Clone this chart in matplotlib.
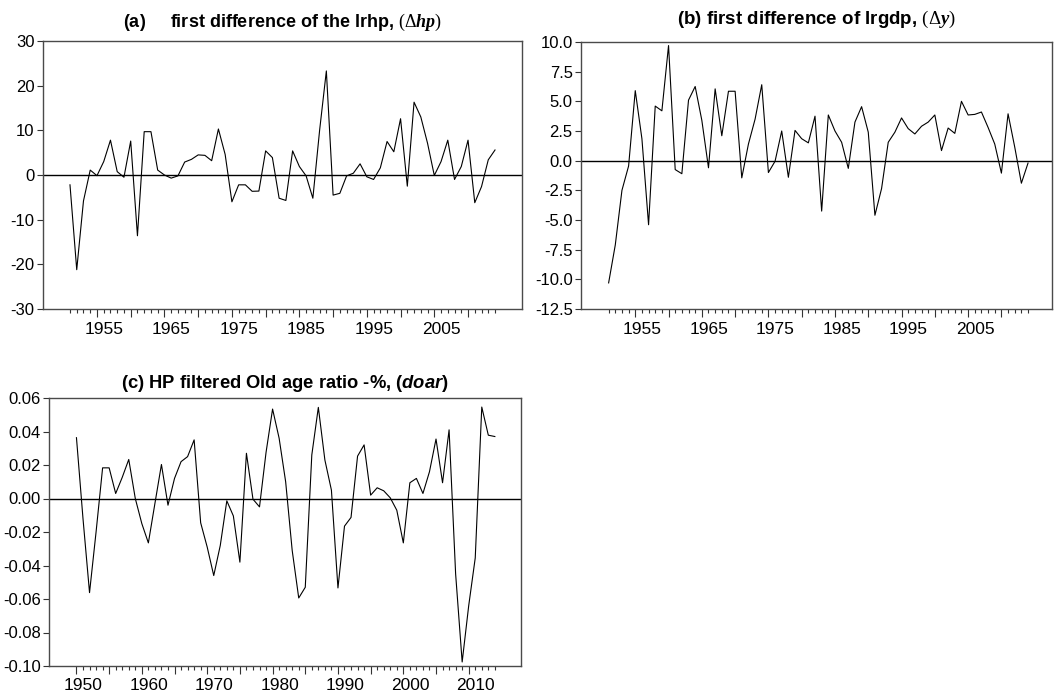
import matplotlib
matplotlib.use("Agg")
import matplotlib.pyplot as plt
from matplotlib.ticker import MultipleLocator, FixedLocator, FixedFormatter, FuncFormatter
from matplotlib.transforms import ScaledTranslation

plt.rcParams['font.family'] = ['Liberation Sans', 'DejaVu Sans']
plt.rcParams['axes.unicode_minus'] = False
plt.rcParams['mathtext.fontset'] = 'custom'
plt.rcParams['mathtext.rm'] = 'Liberation Serif'
plt.rcParams['mathtext.it'] = 'Liberation Serif:italic'
plt.rcParams['mathtext.bf'] = 'Liberation Serif:bold'
plt.rcParams['mathtext.bfit'] = 'Liberation Serif:italic:bold'
plt.rcParams['mathtext.sf'] = 'Liberation Sans:italic:bold'

# (a) first difference of lrhp, 1951-2014
years_a = list(range(1951, 2015))
dhp = [-2.2, -21.2, -5.8, 1.1, -0.15, 3.0, 7.8, 0.75, -0.5, 7.6,
       -13.6, 9.7, 9.7, 1.1, 0.0, -0.7, -0.2, 2.9, 3.5, 4.5,
       4.4, 3.2, 10.3, 4.6, -6.0, -2.2, -2.2, -3.65, -3.6, 5.4,
       3.9, -5.2, -5.7, 5.4, 1.9, -0.2, -5.2, 10.0, 23.3, -4.5,
       -4.1, -0.2, 0.4, 2.5, -0.4, -1.0, 1.6, 7.5, 5.2, 12.6,
       -2.5, 16.3, 13.0, 7.1, -0.1, 3.0, 7.8, -1.0, 1.9, 7.8,
       -6.2, -2.6, 3.4, 5.6]

# (b) first difference of lrgdp, 1951-2014
years_b = list(range(1951, 2015))
dy = [-10.3, -7.1, -2.5, -0.45, 5.9, 1.85, -5.4, 4.6, 4.2, 9.7,
      -0.75, -1.1, 5.1, 6.25, 3.4, -0.6, 6.05, 2.1, 5.85, 5.85,
      -1.45, 1.4, 3.5, 6.4, -1.0, -0.05, 2.5, -1.4, 2.55, 1.85,
      1.5, 3.75, -4.25, 3.85, 2.5, 1.55, -0.65, 3.25, 4.55, 2.4,
      -4.6, -2.35, 1.55, 2.4, 3.6, 2.7, 2.25, 2.9, 3.25, 3.85,
      0.85, 2.75, 2.3, 5.0, 3.85, 3.9, 4.1, 2.8, 1.4, -1.05,
      3.95, 1.15, -1.9, -0.2]

# (c) HP filtered old age ratio, 1950-2014
years_c = list(range(1950, 2015))
doar = [0.0363, -0.012, -0.0562, -0.020, 0.0183, 0.0183, 0.003, 0.0126, 0.0233, 0.000,
        -0.015, -0.0265, -0.003, 0.0203, -0.004, 0.012, 0.022, 0.025, 0.035, -0.0145,
        -0.029, -0.046, -0.028, -0.0014, -0.0104, -0.038, 0.027, -0.0004, -0.005, 0.0275,
        0.0534, 0.036, 0.010, -0.031, -0.0594, -0.053, 0.026, 0.0544, 0.023, 0.005,
        -0.0534, -0.0165, -0.0113, 0.0253, 0.032, 0.002, 0.0064, 0.0046, 0.0004, -0.007,
        -0.0265, 0.0094, 0.012, 0.003, 0.016, 0.0355, 0.0094, 0.041, -0.045, -0.0976,
        -0.064, -0.0355, 0.0546, 0.0378, 0.037]

W, H = 1059, 695
fig = plt.figure(figsize=(W / 100, H / 100), dpi=100)


def panel(left, top, right, bottom):
    return fig.add_axes([left / W, 1 - bottom / H, (right - left) / W, (bottom - top) / H])


def style(ax, years, xlim, ylim, ystep, fmt, majors, labeled):
    ax.set_xlim(*xlim)
    ax.set_ylim(*ylim)
    ax.axhline(0, color='black', lw=1.0, zorder=1)
    for sp in ax.spines.values():
        sp.set_color('#4a4a4a')
        sp.set_linewidth(1.0)
    ax.yaxis.set_major_locator(MultipleLocator(ystep))
    ax.yaxis.set_major_formatter(FuncFormatter(lambda v, p: fmt % (0 if abs(v) < 1e-9 else v)))
    ax.xaxis.set_major_locator(FixedLocator(majors))
    ax.xaxis.set_major_formatter(FixedFormatter([str(m) if m in labeled else '' for m in majors]))
    ax.xaxis.set_minor_locator(FixedLocator(years))
    ax.tick_params(axis='y', direction='out', length=4, width=0.8, pad=2, labelsize=12, color='#333333')
    ax.tick_params(axis='x', which='major', direction='out', length=6, width=0.8, pad=3, labelsize=12.5, color='#333333')
    ax.tick_params(axis='x', which='minor', direction='out', length=3, width=0.8, color='#333333')
    shift = ScaledTranslation(7 / 100, 0, fig.dpi_scale_trans)
    for lab in ax.get_xticklabels():
        lab.set_transform(lab.get_transform() + shift)


# (a)
ax_a = panel(43, 41, 522, 309)
ax_a.plot(years_a, dhp, color='black', lw=0.8)
style(ax_a, years_a, (1947, 2018), (-30, 30), 10, '%d',
      list(range(1955, 2015, 5)), list(range(1955, 2015, 10)))
ax_a.set_title(r'(a)     first difference of the lrhp, $(\Delta\mathbfit{hp})$',
               fontsize=13, fontweight='bold', pad=10)

# (b)
ax_b = panel(581, 42, 1052, 309)
ax_b.plot(years_b, dy, color='black', lw=0.8)
style(ax_b, years_b, (1946.85, 2017.6), (-12.5, 10.0), 2.5, '%.1f',
      list(range(1955, 2015, 5)), list(range(1955, 2015, 10)))
ax_b.set_title(r'(b) first difference of lrgdp, $(\Delta\mathbfit{y})$',
               fontsize=13.5, fontweight='bold', pad=13)

# (c)
ax_c = panel(49, 398, 521, 666)
ax_c.plot(years_c, doar, color='black', lw=0.8)
style(ax_c, years_c, (1945.8, 2018), (-0.10, 0.06), 0.02, '%.2f',
      list(range(1950, 2015, 5)), list(range(1950, 2015, 10)))
ax_c.set_title(r'(c) HP filtered Old age ratio -%, ($\mathsf{doar}$)',
               fontsize=13.2, fontweight='bold', pad=7)

fig.savefig('out.png', dpi=100)
